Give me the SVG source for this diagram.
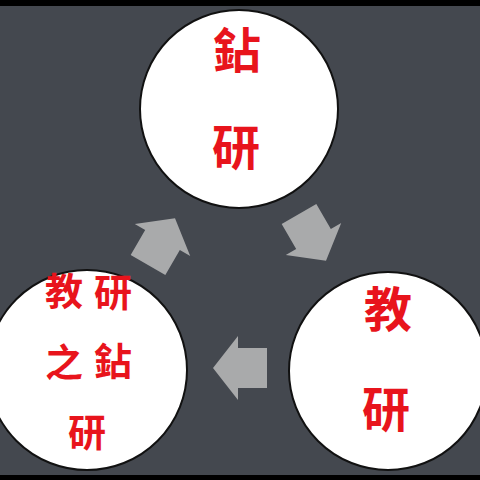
<svg xmlns="http://www.w3.org/2000/svg" width="480" height="480" viewBox="0 0 480 480">
<defs>
<style>
.circ{fill:#ffffff;stroke:#111111;stroke-width:2}
.lbl{fill:#e8141c;font-family:"Noto Sans CJK SC","Noto Sans CJK TC",sans-serif;font-weight:bold;text-anchor:middle;dominant-baseline:central}
.arr{fill:#a9aaab}
</style>
<polygon id="arrowShape" points="27,0 2,-32 2,-20 -27,-20 -27,20 2,20 2,32"/>
</defs>
<rect x="0" y="0" width="480" height="480" fill="#44484f"/>
<rect x="0" y="0" width="480" height="6" fill="#000000"/>
<rect x="0" y="475" width="480" height="5" fill="#000000"/>
<g id="connectors">
<use href="#arrowShape" class="arr" transform="translate(161.5,241.7) rotate(-60)"/>
<use href="#arrowShape" class="arr" transform="translate(312.5,237.3) rotate(60)"/>
<use href="#arrowShape" class="arr" transform="translate(240,368) rotate(180)"/>
</g>
<g id="node-top">
<circle class="circ" cx="239" cy="109" r="99"/>
<text class="lbl" x="237" y="47" font-size="48">鉆</text>
<text class="lbl" x="236" y="144" font-size="48">研</text>
</g>
<g id="node-right">
<circle class="circ" cx="388" cy="371" r="99"/>
<text class="lbl" x="388" y="306" font-size="48">教</text>
<text class="lbl" x="386" y="406" font-size="48">研</text>
</g>
<g id="node-left">
<circle class="circ" cx="87" cy="370" r="100"/>
<text class="lbl" x="64" y="288" font-size="38">教</text>
<text class="lbl" x="113" y="289" font-size="38">研</text>
<text class="lbl" x="64" y="359" font-size="38">之</text>
<text class="lbl" x="113" y="358" font-size="38">鉆</text>
<text class="lbl" x="87" y="429" font-size="38">研</text>
</g>
</svg>
